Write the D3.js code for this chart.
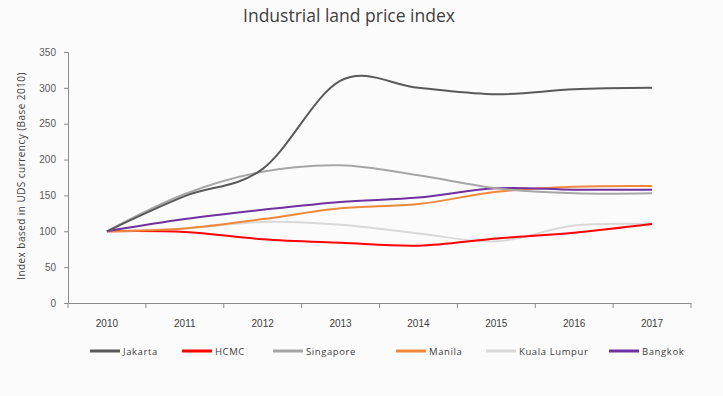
<!DOCTYPE html>
<html>
<head>
<meta charset="utf-8">
<script src="https://cdn.jsdelivr.net/npm/d3@7"></script>
<style>
  body { margin: 0; background: #fbfbfb; }
  svg { display: block; font-family: "Open Sans", sans-serif; }
</style>
</head>
<body>
<div id="vis"></div>
<script>
const WIDTH = 723;
const HEIGHT = 396;

const MARGIN = {
    top: 52,
    bottom: 93,
    right: 32,
    left: 68,
};

const years = ["2010", "2011", "2012", "2013", "2014", "2015", "2016", "2017"];
const yTicks = [0, 50, 100, 150, 200, 250, 300, 350];

const jakarta = [100, 149, 187, 310, 300, 291, 298, 300];
const hcmc = [100, 99, 89, 84, 80, 90, 98, 110];
const singapore = [100, 152, 183, 192, 178, 160, 153, 153];
const manila = [100, 104, 117, 132, 138, 155, 162, 163];
const kualaLumpur = [100, 104, 113, 109, 97, 86, 108, 110];
const bangkok = [100, 117, 130, 141, 147, 160, 158, 158];

const seriesNames = ["Jakarta", "HCMC", "Singapore", "Manila", "Kuala Lumpur", "Bangkok"];
const seriesValues = [jakarta, hcmc, singapore, manila, kualaLumpur, bangkok];
const seriesColors = ["#595959", "#ff0000", "#a6a6a6", "#f0883c", "#d9d9d9", "#7030a0"];

const SVG = d3.select("#vis").append("svg")
    .attr("width", WIDTH).attr("height", HEIGHT);

SVG.append("rect").attr("width", WIDTH).attr("height", HEIGHT).attr("fill", "#fbfbfb");

const XScale = d3.scaleBand()
    .domain(years)
    .range([MARGIN.left, WIDTH - MARGIN.right]);

const YScale = d3.scaleLinear()
    .domain([0, 350])
    .range([HEIGHT - MARGIN.bottom, MARGIN.top]);

// title
SVG.append("text")
   .text("Industrial land price index")
   .attr("x", 349)
   .attr("y", 22)
   .attr("text-anchor", "middle")
   .attr("font-size", 17.5)
   .attr("fill", "#404040");

// y axis
let yAxis = d3.axisLeft(YScale).tickValues(yTicks).tickSize(4).tickPadding(8);
let yAxisCont = SVG.append("g")
    .attr("transform", `translate(${MARGIN.left}, 0)`)
    .call(yAxis);
yAxisCont.select(".domain").attr("stroke", "#8c8c8c");
yAxisCont.selectAll("line").attr("stroke", "#8c8c8c");
yAxisCont.selectAll("text").attr("font-size", 10).attr("fill", "#595959");

SVG.append("text")
   .text("Index based in UDS currency (Base  2010)")
   .attr("transform", `translate(25, 176) rotate(-90)`)
   .attr("text-anchor", "middle")
   .attr("font-size", 10)
   .attr("letter-spacing", 0.45)
   .attr("fill", "#404040");

// x axis
let xAxis = d3.axisBottom(XScale).tickSize(0).tickPadding(17);
let xAxisCont = SVG.append("g")
    .attr("transform", `translate(0, ${HEIGHT - MARGIN.bottom})`)
    .call(xAxis);
xAxisCont.select(".domain").attr("stroke", "#8c8c8c");
xAxisCont.selectAll("text").attr("font-size", 10).attr("fill", "#404040");

// band boundary ticks
const bounds = years.map((y) => XScale(y)).concat([XScale(years.at(-1)) + XScale.bandwidth()]);
xAxisCont.selectAll(".bound")
    .data(bounds)
    .join("line")
    .attr("class", "bound")
    .attr("x1", (d) => d).attr("x2", (d) => d)
    .attr("y1", 0).attr("y2", 5)
    .attr("stroke", "#8c8c8c");

// lines
const line = d3.line()
    .x((d, i) => XScale(years[i]) + XScale.bandwidth() / 2)
    .y((d) => YScale(d))
    .curve(d3.curveCardinal.tension(0));

const order = [4, 1, 3, 5, 2, 0];
SVG.append("g").selectAll("path")
    .data(order)
    .join("path")
    .attr("fill", "none")
    .attr("stroke", (i) => seriesColors[i])
    .attr("stroke-width", 2)
    .attr("d", (i) => line(seriesValues[i]));

// legend
const legendX = [90, 182, 273, 396, 486, 609];
const legend = SVG.append("g").selectAll("g")
    .data(seriesNames)
    .join("g")
    .attr("transform", (d, i) => `translate(${legendX[i]}, 351)`);
legend.append("line")
    .attr("x1", 0).attr("x2", 30)
    .attr("stroke", (d, i) => seriesColors[i])
    .attr("stroke-width", 3);
legend.append("text")
    .text((d) => d)
    .attr("x", 33)
    .attr("y", 3.5)
    .attr("font-size", 9.5)
    .attr("letter-spacing", 0.6)
    .attr("fill", "#404040");
</script>
</body>
</html>
